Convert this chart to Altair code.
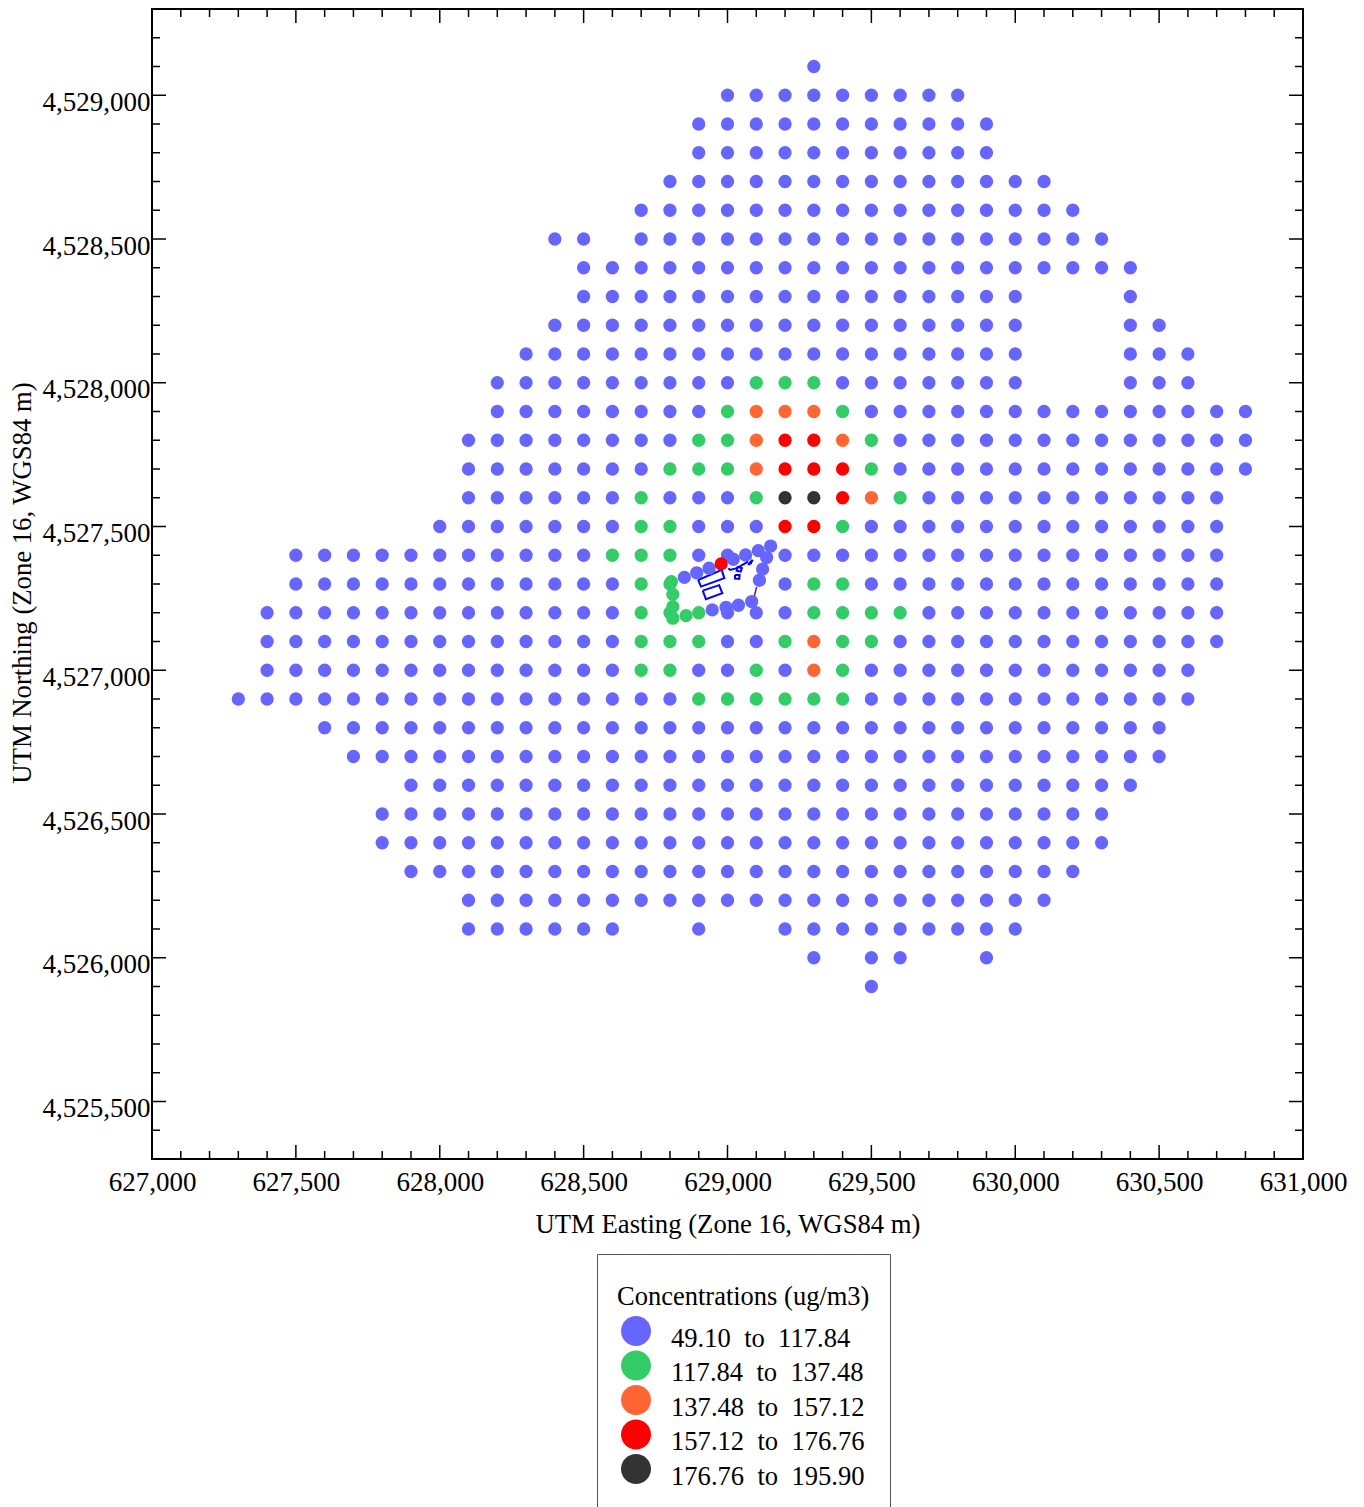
import altair as alt
import pandas as pd

NB = "\u00a0\u00a0"
BANDS = [f"49.10{NB}to{NB}117.84", f"117.84{NB}to{NB}137.48", f"137.48{NB}to{NB}157.12",
         f"157.12{NB}to{NB}176.76", f"176.76{NB}to{NB}195.90"]
COLORS = ["#6666FF", "#33CC66", "#FF6633", "#FF0000", "#333333"]

# Receptors: northing -> runs of eastings on the 100 m grid
ROW_RUNS = {
    4529100: [(629300, 629300)],
    4529000: [(629000, 629800)],
    4528900: [(628900, 629900)],
    4528800: [(628900, 629900)],
    4528700: [(628800, 630100)],
    4528600: [(628700, 630200)],
    4528500: [(628400, 628500), (628700, 630300)],
    4528400: [(628500, 630400)],
    4528300: [(628500, 630000), (630400, 630400)],
    4528200: [(628400, 630000), (630400, 630500)],
    4528100: [(628300, 630000), (630400, 630600)],
    4528000: [(628200, 630000), (630400, 630600)],
    4527900: [(628200, 630800)],
    4527800: [(628100, 630800)],
    4527700: [(628100, 630800)],
    4527600: [(628100, 630700)],
    4527500: [(628000, 630700)],
    4527400: [(627500, 629000), (629200, 630700)],
    4527300: [(627500, 628800), (629200, 630700)],
    4527200: [(627400, 630700)],
    4527100: [(627400, 630700)],
    4527000: [(627400, 630600)],
    4526900: [(627300, 630600)],
    4526800: [(627600, 630500)],
    4526700: [(627700, 630500)],
    4526600: [(627900, 630400)],
    4526500: [(627800, 630300)],
    4526400: [(627800, 630300)],
    4526300: [(627900, 630200)],
    4526200: [(628100, 630100)],
    4526100: [(628100, 628600), (628900, 628900), (629200, 630000)],
    4526000: [(629300, 629300), (629500, 629600), (629900, 629900)],
    4525900: [(629500, 629500)],
}

# Receptors above the lowest band: northing -> eastings per band index
GREEN = {
    4528000: [629100, 629200, 629300],
    4527900: [629000, 629400],
    4527800: [628900, 629000, 629500],
    4527700: [628800, 628900, 629000, 629500],
    4527600: [628700, 629100, 629600],
    4527500: [628700, 628800, 629400],
    4527400: [628600, 628700, 628800],
    4527300: [628700, 628800, 629300, 629400],
    4527200: [628700, 628800, 628900, 629300, 629400, 629500, 629600],
    4527100: [628700, 628800, 628900, 629200, 629400, 629500],
    4527000: [628700, 628800, 629100, 629400],
    4526900: [628900, 629000, 629100, 629200, 629300, 629400],
}
ORANGE = {
    4527900: [629100, 629200, 629300],
    4527800: [629100, 629400],
    4527700: [629100],
    4527600: [629500],
    4527100: [629300],
    4527000: [629300],
}
RED = {
    4527800: [629200, 629300],
    4527700: [629200, 629300, 629400],
    4527600: [629400],
    4527500: [629200, 629300],
}
DARK = {4527600: [629200, 629300]}

# Fenceline receptors
FENCE_BLUE_E = [628850, 628893, 628936, 629020, 629063, 629107, 629150, 629136, 629122, 629111,
                629084, 629038, 628995, 628947]
FENCE_BLUE_N = [4527323, 4527339, 4527355, 4527386, 4527401, 4527416, 4527432, 4527392, 4527352, 4527313,
                4527239, 4527226, 4527219, 4527210]
FENCE_GREEN_E = [628805, 628810, 628810, 628810, 628856]
FENCE_GREEN_N = [4527308, 4527264, 4527221, 4527181, 4527190]
FENCE_RED_E = [628978]
FENCE_RED_N = [4527370]

# Facility outlines: (colour, width, eastings, northings)
OUTLINES = [
    ("#0000FF", 2.0, [628898, 628908, 628989, 628980, 628898], [4527314, 4527291, 4527320, 4527349, 4527314]),
    ("#0000FF", 2.0, [628914, 628925, 628982, 628971, 628914], [4527277, 4527247, 4527268, 4527296, 4527277]),
    ("#0000FF", 2.0, [629034, 629050, 629046, 629032, 629034], [4527360, 4527355, 4527343, 4527346, 4527360]),
    ("#0000FF", 2.0, [629026, 629042, 629041, 629026, 629026], [4527331, 4527331, 4527318, 4527319, 4527331]),
    ("#0000FF", 2.0, [629003, 629009, 629032, 629072], [4527355, 4527349, 4527355, 4527378]),
    ("#0000FF", 2.5, [629072, 629088], [4527366, 4527384]),
    ("#0000FF", 2.5, [629075, 629085], [4527373, 4527373]),
    ("#800060", 1.5, [629101, 629093], [4527289, 4527256]),
]

X_MAJOR = list(range(627000, 631001, 500))
X_MINOR = [v for v in range(627000, 631001, 100) if v % 500]
Y_MAJOR = list(range(4525500, 4529001, 500))
Y_MINOR = [v for v in range(4525300, 4529301, 100) if v % 500]

W, H = 1151, 1150
FONT = "Liberation Serif"
XDOM, YDOM = [627000, 631000], [4525300, 4529300]
xs = alt.Scale(domain=XDOM, nice=False, zero=False)
ys = alt.Scale(domain=YDOM, nice=False, zero=False)

overrides = {}
for idx, table in enumerate([GREEN, ORANGE, RED, DARK], start=1):
    for n, es in table.items():
        for e in es:
            overrides[(e, n)] = idx

rows = []
for n, runs in ROW_RUNS.items():
    for a, b in runs:
        for e in range(a, b + 1, 100):
            rows.append({"e": e, "n": n, "band": BANDS[overrides.get((e, n), 0)]})
for es, ns, i in [(FENCE_BLUE_E, FENCE_BLUE_N, 0), (FENCE_GREEN_E, FENCE_GREEN_N, 1), (FENCE_RED_E, FENCE_RED_N, 3)]:
    for e, n in zip(es, ns):
        rows.append({"e": e, "n": n, "band": BANDS[i]})
pts = pd.DataFrame(rows)

x_axis = alt.Axis(format=",d", values=X_MAJOR, ticks=False, domain=False, grid=False, labelPadding=10,
                  labelFont=FONT, labelFontSize=27, labelColor="black", labelOverlap=False, labelFlush=False,
                  title="UTM Easting (Zone 16, WGS84 m)", titleFont=FONT, titleFontSize=26.7,
                  titleFontWeight="normal", titleColor="black", titlePadding=16)
y_axis = alt.Axis(format=",d", values=Y_MAJOR, ticks=False, domain=False, grid=False, labelPadding=2,
                  labelFont=FONT, labelFontSize=27, labelColor="black", labelOverlap=False, labelFlush=False,
                  labelOffset=7,
                  title="UTM Northing (Zone 16, WGS84 m)", titleFont=FONT, titleFontSize=26.7,
                  titleFontWeight="normal", titleColor="black", titlePadding=6, titleY=573.5)

legend = alt.Legend(
    orient="none", legendX=445, legendY=1245,
    title=["", "Concentrations (ug/m3)"], titleFont=FONT, titleFontSize=26.5, titleFontWeight="normal",
    titleColor="black", titleLineHeight=10, titlePadding=13, titleLimit=500,
    strokeColor="#555555", padding=20, fillColor="white",
    labelFont=FONT, labelFontSize=26.6, labelColor="black", labelOffset=20, labelBaseline="middle",
    symbolSize=900, symbolOffset=4, symbolStrokeWidth=0, rowPadding=-2.5, labelLimit=400,
    symbolType="M1,-0.5A1,1,0,1,1,-1,-0.5A1,1,0,1,1,1,-0.5Z",
)

points = alt.Chart(pts).mark_circle(size=177, opacity=1).encode(
    x=alt.X("e:Q", scale=xs, axis=x_axis),
    y=alt.Y("n:Q", scale=ys, axis=y_axis),
    color=alt.Color("band:N", scale=alt.Scale(domain=BANDS, range=COLORS), legend=legend),
)

layers = []
for i, (col, sw, es, ns) in enumerate(OUTLINES):
    df = pd.DataFrame({"e": es, "n": ns, "o": list(range(len(es)))})
    layers.append(alt.Chart(df).mark_line(color=col, strokeWidth=sw).encode(
        x=alt.X("e:Q", scale=xs, axis=x_axis),
        y=alt.Y("n:Q", scale=ys, axis=y_axis),
        order="o:Q"))


def xticks(vals, ln):
    df = pd.DataFrame({"v": vals})
    b = alt.Chart(df).mark_rule(color="black", strokeWidth=1.5)
    x = alt.X("v:Q", scale=xs, axis=x_axis)
    return [b.encode(x=x, y=alt.value(H), y2=alt.value(H - ln)), b.encode(x=x, y=alt.value(0), y2=alt.value(ln))]


def yticks(vals, ln):
    df = pd.DataFrame({"v": vals})
    b = alt.Chart(df).mark_rule(color="black", strokeWidth=1.5)
    y = alt.Y("v:Q", scale=ys, axis=y_axis)
    return [b.encode(y=y, x=alt.value(0), x2=alt.value(ln)), b.encode(y=y, x=alt.value(W), x2=alt.value(W - ln))]


tick_layers = xticks(X_MAJOR, 14) + xticks(X_MINOR, 8) + yticks(Y_MAJOR, 14) + yticks(Y_MINOR, 8)

chart = alt.layer(*layers, points, *tick_layers).properties(
    width=W, height=H,
    autosize=alt.AutoSizeParams(type="none"),
    padding={"left": 144, "top": 1, "right": 53, "bottom": 380},
    background="white",
).configure_view(stroke="black", strokeWidth=2)

chart.save("out.html", embed_options={"renderer": "svg", "actions": False})
